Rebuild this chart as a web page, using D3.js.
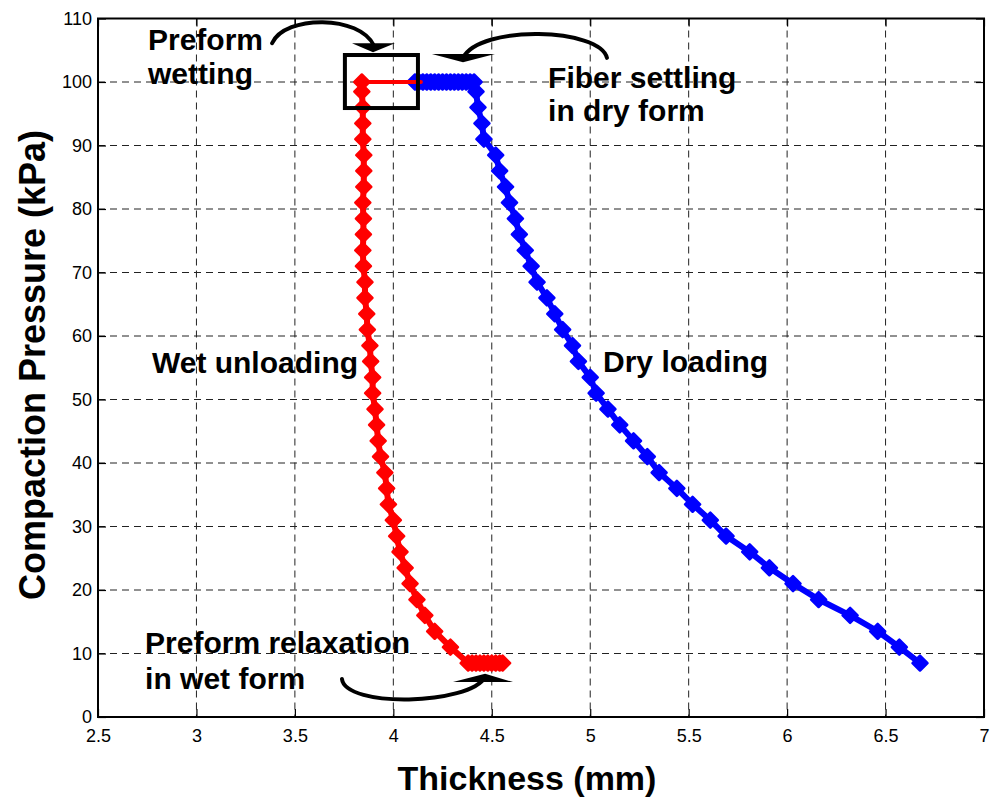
<!DOCTYPE html>
<html>
<head>
<meta charset="utf-8">
<script src="https://cdnjs.cloudflare.com/ajax/libs/d3/7.8.5/d3.min.js"></script>
<style>
  body { margin: 0; background: #fff; }
  text { font-family: "Liberation Sans", Arial, Helvetica, sans-serif; fill: #000; }
</style>
</head>
<body>
<svg class="chart"></svg>
<script>
// tick values
var xTicks = [2.5, 3, 3.5, 4, 4.5, 5, 5.5, 6, 6.5, 7];
var yTicks = [0, 10, 20, 30, 40, 50, 60, 70, 80, 90, 100, 110];

// dry loading (blue), read from bottom to top
var dryPressure = [8.5, 11, 13.5, 16, 18.5, 21, 23.5, 26, 28.5, 31, 33.5, 36, 38.5, 41, 43.5,
  46, 48.5, 51, 53.5, 56, 58.5, 61, 63.5, 66, 68.5, 71, 73.5, 76, 78.5, 81, 83.5, 86, 88.5,
  91, 93.5, 96, 98.5, 100];
var dryThickness = [6.675, 6.57, 6.46, 6.32, 6.16, 6.03, 5.91, 5.81, 5.69, 5.61, 5.52, 5.44,
  5.35, 5.29, 5.22, 5.15, 5.09, 5.03, 5.00, 4.94, 4.91, 4.86, 4.82, 4.78, 4.73, 4.70, 4.67,
  4.64, 4.62, 4.59, 4.57, 4.54, 4.52, 4.46, 4.45, 4.43, 4.42, 4.41];

// fiber settling in dry form at 100 kPa
var settleThickness = [4.39, 4.37, 4.35, 4.33, 4.31, 4.29, 4.27, 4.25, 4.23, 4.21, 4.19,
  4.17, 4.15, 4.13, 4.11];
var settlePressure = 100;

// preform wetting at 100 kPa
var wettingThickness = [4.14, 3.84];
var wettingPressure = 100;

// wet unloading (red), read from top to bottom
var wetPressure = [100, 98.5, 96, 93.5, 91, 88.5, 86, 83.5, 81, 78.5, 76, 73.5, 71, 68.5, 66,
  63.5, 61, 58.5, 56, 53.5, 51, 48.5, 46, 43.5, 41, 38.5, 36, 33.5, 31, 28.5, 26, 23.5, 21,
  18.5, 16, 13.5, 11, 8.5];
var wetThickness = [3.84, 3.84, 3.845, 3.845, 3.845, 3.85, 3.85, 3.85, 3.845, 3.848, 3.848,
  3.845, 3.848, 3.856, 3.856, 3.865, 3.868, 3.881, 3.885, 3.895, 3.895, 3.907, 3.915, 3.923,
  3.935, 3.957, 3.966, 3.975, 4.0, 4.017, 4.034, 4.06, 4.085, 4.12, 4.16, 4.21, 4.29, 4.38];

// preform relaxation in wet form at 8.5 kPa
var relaxThickness = [4.40, 4.42, 4.44, 4.46, 4.48, 4.50, 4.52, 4.54, 4.555];
var relaxPressure = 8.5;

// annotations, in data units
var labels = [
  {t: "Preform", x: 2.754, y: 105.0},
  {t: "wetting", x: 2.754, y: 99.7},
  {t: "Fiber settling", x: 4.786, y: 99.1},
  {t: "in dry form", x: 4.786, y: 93.9},
  {t: "Wet unloading", x: 2.774, y: 54.2},
  {t: "Dry loading", x: 5.065, y: 54.3},
  {t: "Preform relaxation", x: 2.739, y: 10.1},
  {t: "in wet form", x: 2.739, y: 4.4}
];
var arrows = [
  {curve: [[3.384, 106.1], [3.450, 110.6], [3.831, 110.6], [3.902, 105.7]],
   head: [[3.790, 106.1], [4.008, 106.1], [3.897, 104.7]]},
  {curve: [[5.085, 103.8], [5.050, 108.5], [4.440, 109.1], [4.354, 103.8]],
   head: [[4.196, 104.4], [4.516, 104.4], [4.354, 103.1]]},
  {curve: [[3.739, 6.0], [3.755, 1.4], [4.389, 1.9], [4.466, 6.3]],
   head: [[4.303, 5.5], [4.608, 5.5], [4.466, 6.8]]}
];
var wetBox = {x0: 3.754, x1: 4.125, y0: 95.9, y1: 104.25};

var W = 991, H = 800;
var plot = {left: 98, right: 984, top: 18.5, bottom: 717};

var svg = d3.select(".chart").attr("width", W).attr("height", H);

var x = d3.scaleLinear().domain([2.5, 7]).range([plot.left, plot.right]);
var y = d3.scaleLinear().domain([0, 110]).range([plot.bottom, plot.top]);

// grid
svg.append("g").selectAll("line").data(xTicks.slice(1, -1)).enter().append("line")
    .attr("x1", function(d) { return x(d); }).attr("x2", function(d) { return x(d); })
    .attr("y1", plot.top).attr("y2", plot.bottom)
    .attr("stroke", "#222").attr("stroke-width", 1).attr("stroke-dasharray", "7,5");
svg.append("g").selectAll("line").data(yTicks.slice(1, -1)).enter().append("line")
    .attr("y1", function(d) { return y(d); }).attr("y2", function(d) { return y(d); })
    .attr("x1", plot.left).attr("x2", plot.right)
    .attr("stroke", "#222").attr("stroke-width", 1).attr("stroke-dasharray", "7,5");

// axes with inward ticks on all four sides
var xAxis = d3.axisBottom(x).tickValues(xTicks).tickSize(-8).tickPadding(0).tickFormat(d3.format(""));
var yAxis = d3.axisLeft(y).tickValues(yTicks).tickSize(-8).tickPadding(6).tickFormat(d3.format(""));

var gx = svg.append("g").attr("transform", "translate(0," + plot.bottom + ")").call(xAxis);
gx.selectAll("text").attr("dy", null).attr("y", 25).style("font-size", "18px");
var gy = svg.append("g").attr("transform", "translate(" + plot.left + ",0)").call(yAxis);
gy.selectAll("text").style("font-size", "18px");
svg.append("g").attr("transform", "translate(0," + plot.top + ")")
    .call(d3.axisTop(x).tickValues(xTicks).tickSize(-8).tickFormat(""));
svg.append("g").attr("transform", "translate(" + plot.right + ",0)")
    .call(d3.axisRight(y).tickValues(yTicks).tickSize(-8).tickFormat(""));
svg.selectAll(".domain").remove();
svg.selectAll(".tick line").attr("stroke", "#000").attr("stroke-width", 1.2);

svg.append("rect")
    .attr("x", plot.left).attr("y", plot.top)
    .attr("width", plot.right - plot.left).attr("height", plot.bottom - plot.top)
    .attr("fill", "none").attr("stroke", "#000").attr("stroke-width", 2);

// series
var line = d3.line().x(function(d) { return x(d[0]); }).y(function(d) { return y(d[1]); });
var diamond = "M0,-7.5L7.5,0L0,7.5L-7.5,0Z";

function series(pts, color, width) {
  svg.append("path").datum(pts)
      .attr("d", line).attr("fill", "none").attr("stroke", color)
      .attr("stroke-width", width).attr("stroke-linejoin", "round").attr("stroke-linecap", "round");
  svg.append("g").selectAll("path").data(pts).enter().append("path")
      .attr("d", diamond)
      .attr("transform", function(d) { return "translate(" + x(d[0]) + "," + y(d[1]) + ")"; })
      .attr("fill", color).attr("stroke", color).attr("stroke-width", 2.5).attr("stroke-linejoin", "round");
}

var dry = dryThickness.map(function(t, i) { return [t, dryPressure[i]]; })
  .concat(settleThickness.map(function(t) { return [t, settlePressure]; }));
series(dry, "#0000ff", 6);

svg.append("path").datum(wettingThickness.map(function(t) { return [t, wettingPressure]; }))
    .attr("d", line).attr("fill", "none").attr("stroke", "#ff0000")
    .attr("stroke-width", 4).attr("stroke-linecap", "round");

var wet = wetThickness.map(function(t, i) { return [t, wetPressure[i]]; })
  .concat(relaxThickness.map(function(t) { return [t, relaxPressure]; }));
series(wet, "#ff0000", 6);

// annotation box and arrows
svg.append("rect")
    .attr("x", x(wetBox.x0)).attr("y", y(wetBox.y1))
    .attr("width", x(wetBox.x1) - x(wetBox.x0)).attr("height", y(wetBox.y0) - y(wetBox.y1))
    .attr("fill", "none").attr("stroke", "#000").attr("stroke-width", 4);

arrows.forEach(function(a) {
  var c = a.curve.map(function(p) { return [x(p[0]), y(p[1])]; });
  svg.append("path")
      .attr("d", "M" + c[0] + "C" + c[1] + " " + c[2] + " " + c[3])
      .attr("fill", "none").attr("stroke", "#000").attr("stroke-width", 4).attr("stroke-linecap", "round");
  svg.append("path")
      .attr("d", "M" + a.head.map(function(p) { return [x(p[0]), y(p[1])]; }).join("L") + "Z")
      .attr("fill", "#000");
});

svg.append("g").selectAll("text").data(labels).enter().append("text")
    .attr("x", function(d) { return x(d.x); })
    .attr("y", function(d) { return y(d.y); })
    .style("font-size", "30px").style("font-weight", "bold")
    .text(function(d) { return d.t; });

// axis titles
svg.append("text")
    .attr("x", 527).attr("y", 790)
    .attr("text-anchor", "middle")
    .style("font-size", "34px").style("font-weight", "bold")
    .text("Thickness (mm)");
svg.append("text")
    .attr("transform", "translate(45,365) rotate(-90)")
    .attr("text-anchor", "middle")
    .style("font-size", "36px").style("font-weight", "bold")
    .text("Compaction Pressure (kPa)");
</script>
</body>
</html>
